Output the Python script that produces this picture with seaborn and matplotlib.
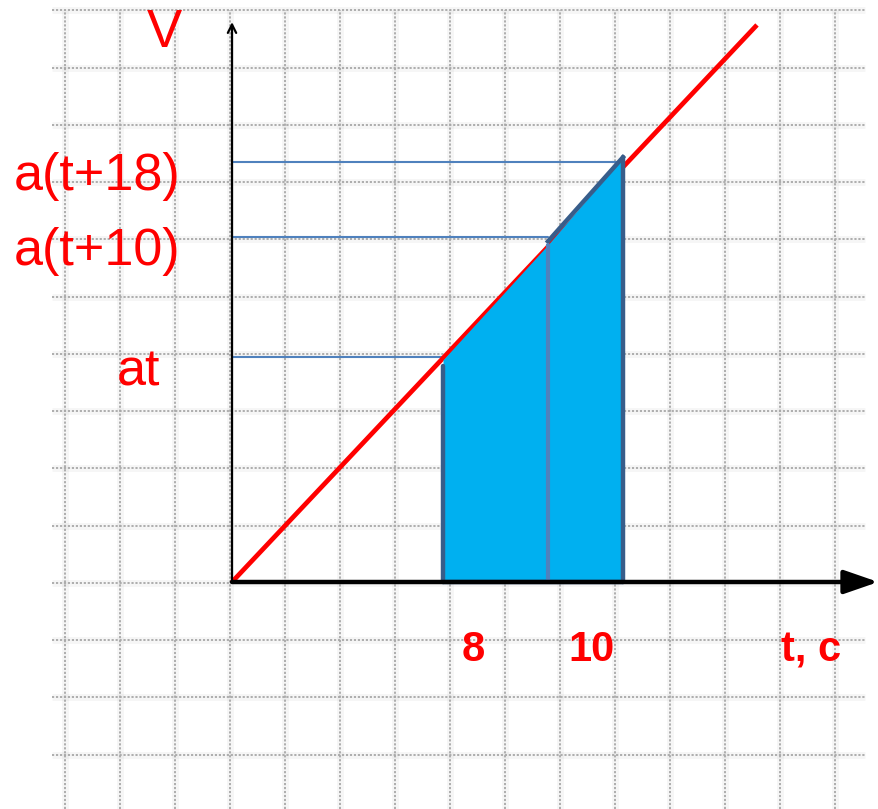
import numpy as np
import pandas as pd
import matplotlib
matplotlib.use("Agg")
import matplotlib.pyplot as plt
import seaborn as sns

# ---- data (grid units: t along x, v along y) ----
line_t = [0.0, 9.545]
line_v = [0.0, 9.73]

fill_t = [3.836, 5.745, 7.109]
fill_v = [3.88, 5.89, 7.42]

level_v = [3.93, 6.03, 7.34]
level_end_t = [3.836, 5.745, 7.109]
level_labels = ["at", "a(t+10)", "a(t+18)"]
level_label_t = [-1.31, -0.945, -0.945]
level_label_base = [3.44, 5.54, 6.85]

tick_t = [4.38, 6.53]
tick_labels = ["8", "10"]
xlabel_text = "t, c"
ylabel_text = "V"

RED = "#FF0000"
FILL = "#00B0F0"
DARK = "#385D8A"
MID = "#4F81BD"

sns.set_theme(style="white")
plt.rcParams["font.family"] = ["Liberation Sans", "DejaVu Sans"]

fig = plt.figure(figsize=(8.79, 8.09), dpi=100)
ax = fig.add_axes([0, 0, 1, 1])
ax.set_xlim(-232 / 55, (879 - 232) / 55)
ax.set_ylim(-(809 - 582) / 57.25, 582 / 57.25)
ax.axis("off")

# ---- dotted grid with soft shadow ----
gx = np.arange(-3, 12) - 0.036
gy = np.arange(-3, 11) - 0.017
for x in gx:
    ax.plot([x, x], [-3.97, 10.0], color="black", alpha=0.035, lw=5, zorder=0.5,
            solid_capstyle="butt")
    ax.plot([x, x], [-3.97, 10.0], color="#a8a8a8", lw=1.3, ls=(0, (1.2, 1.0)),
            zorder=1)
for y in gy:
    ax.plot([-3.27, 11.51], [y, y], color="black", alpha=0.035, lw=5, zorder=0.5,
            solid_capstyle="butt")
    ax.plot([-3.27, 11.51], [y, y], color="#a8a8a8", lw=1.3, ls=(0, (1.2, 1.0)),
            zorder=1)

# ---- red line ----
df_line = pd.DataFrame({"t": line_t, "v": line_v})
sns.lineplot(data=df_line, x="t", y="v", color=RED, lw=3.4, ax=ax, zorder=3,
             solid_capstyle="butt")

# ---- level lines ----
for v, te in zip(level_v, level_end_t):
    ax.plot([0, te], [v, v], color=MID, lw=1.5, zorder=2.5)

# ---- shaded area ----
ax.fill_between(fill_t, 0, fill_v, color=FILL, zorder=4, lw=0)
ax.plot([fill_t[0], fill_t[0]], [0, fill_v[0] - 0.1], color=DARK, lw=3.2, zorder=5)
ax.plot([fill_t[2], fill_t[2]], [0, fill_v[2]], color=DARK, lw=3.2, zorder=5)
ax.plot([fill_t[0], fill_t[2]], [0, 0], color=DARK, lw=3.2, zorder=5)
ax.plot([fill_t[1], fill_t[2]], [fill_v[1] + 0.06, fill_v[2]], color=DARK, lw=3.2,
        zorder=5, solid_capstyle="projecting")
ax.plot([fill_t[1], fill_t[1]], [0, fill_v[1]], color=MID, lw=3.0, zorder=5)

# ---- axes ----
ax.annotate("", xy=(0, 9.78), xytext=(0, 0),
            arrowprops=dict(arrowstyle="->,head_length=0.5,head_width=0.25",
                            color="black", lw=1.6, shrinkA=0, shrinkB=0),
            zorder=6)
ax.annotate("", xy=(11.75, 0), xytext=(0, 0),
            arrowprops=dict(arrowstyle="-|>,head_length=1.3,head_width=0.45",
                            color="black", lw=3.2, shrinkA=0, shrinkB=0,
                            mutation_scale=16),
            zorder=6)

# ---- texts ----
for lab, t, b in zip(level_labels, level_label_t, level_label_base):
    ax.text(t, b, lab, color=RED, fontsize=37.5, ha="right", va="baseline", zorder=7)
ax.text(-1.23, 9.34, ylabel_text, color=RED, fontsize=38, ha="center",
        va="baseline", zorder=7)
for t, lab in zip(tick_t, tick_labels):
    ax.text(t, -1.38, lab, color=RED, fontsize=30, fontweight="bold", ha="center",
            va="baseline", zorder=7)
ax.text(10.53, -1.38, xlabel_text, color=RED, fontsize=30, fontweight="bold",
        ha="center", va="baseline", zorder=7)

fig.savefig("out.png", dpi=100)
